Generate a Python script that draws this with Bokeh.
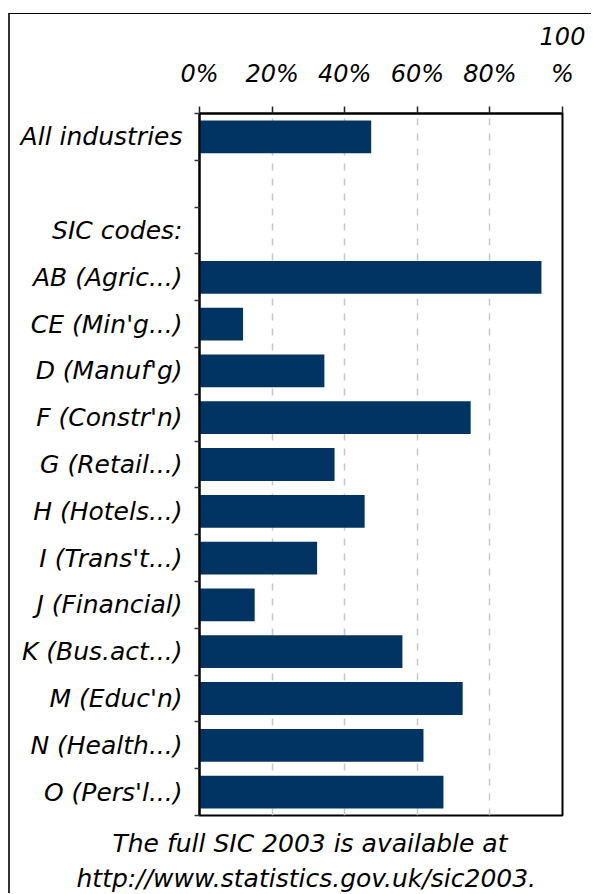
from bokeh.plotting import figure
from bokeh.models import FixedTicker, Range1d, Title
from bokeh.embed import file_html
from bokeh.resources import INLINE

# ---- data ----
row_labels = ["All industries", "", "SIC codes:", "AB (Agric...)", "CE (Min'g...)",
              "D (Manuf'g)", "F (Constr'n)", "G (Retail...)", "H (Hotels...)",
              "I (Trans't...)", "J (Financial)", "K (Bus.act...)", "M (Educ'n)",
              "N (Health...)", "O (Pers'l...)"]
row_values = [47.3, None, None, 94.2, 12.0, 34.4, 74.7, 37.2, 45.5, 32.4, 15.2,
              55.9, 72.5, 61.7, 67.2]
x_ticks = [0, 20, 40, 60, 80, 100]
x_tick_labels = ["0%", "20%", "40%", "60%", "80%", "100\n%"]
caption_lines = ["The full SIC 2003 is available at",
                 "http://www.statistics.gov.uk/sic2003."]

FONT = "DejaVu Sans"
n = len(row_labels)
centers = [n - i - 0.5 for i in range(n)]
bar_y = [c for c, v in zip(centers, row_values) if v is not None]
bar_x = [v for v in row_values if v is not None]

p = figure(width=583, height=880, output_backend="svg", toolbar_location=None,
           x_range=Range1d(0, 100), y_range=Range1d(0, n),
           x_axis_location="above",
           min_border_left=189, min_border_right=31, min_border_top=99,
           min_border_bottom=78)
p.styles = {"margin-left": "8px", "margin-top": "13px",
            "border-left": "2px solid #333333", "border-top": "1px solid #000000"}

p.hbar(y=bar_y, right=bar_x, left=0, height=0.70, color="#023463", line_color=None)

# grid
p.ygrid.grid_line_color = None
p.xgrid.ticker = FixedTicker(ticks=x_ticks[1:-1])
p.xgrid.grid_line_color = "#c8c8c8"
p.xgrid.grid_line_dash = "7 8"
p.xgrid.grid_line_width = 1.5

p.outline_line_color = "black"
p.outline_line_width = 2
p.outline_line_alpha = 1

# top axis
xa = p.xaxis[0]
xa.ticker = FixedTicker(ticks=x_ticks)
xa.major_label_overrides = {t: l for t, l in zip(x_ticks, x_tick_labels)}
xa.major_label_text_font = FONT
xa.major_label_text_font_style = "italic"
xa.major_label_text_font_size = "24px"
xa.major_label_text_color = "black"
xa.major_label_text_line_height = 1.3
xa.major_label_standoff = 19
xa.major_tick_in = 0
xa.major_tick_out = 7
xa.major_tick_line_color = "#222222"
xa.major_tick_line_width = 1.5
xa.minor_tick_line_color = None
xa.axis_line_color = "black"
xa.axis_line_width = 2

# left axis
ya = p.yaxis[0]
ya.ticker = FixedTicker(ticks=centers, minor_ticks=list(range(n + 1)))
ya.major_label_overrides = {c: l for c, l in zip(centers, row_labels)}
ya.major_label_text_font = FONT
ya.major_label_text_font_style = "italic"
ya.major_label_text_font_size = "25px"
ya.major_label_text_color = "black"
ya.major_label_standoff = 12
ya.major_tick_line_color = None
ya.major_tick_in = 0
ya.major_tick_out = 5
ya.minor_tick_in = 0
ya.minor_tick_out = 5
ya.minor_tick_line_color = "#333333"
ya.minor_tick_line_width = 1.5
ya.axis_line_color = "black"
ya.axis_line_width = 2

# caption below the chart
p.add_layout(Title(text=" ", text_font_size="7px", standoff=0), "below")
for txt, off in zip(caption_lines, [-87, -123]):
    p.add_layout(Title(text=txt, align="left", offset=off, text_font=FONT,
                       text_font_style="italic", text_font_size="25px",
                       text_color="black", standoff=4), "below")

open("out.html", "w").write(file_html(p, INLINE))
